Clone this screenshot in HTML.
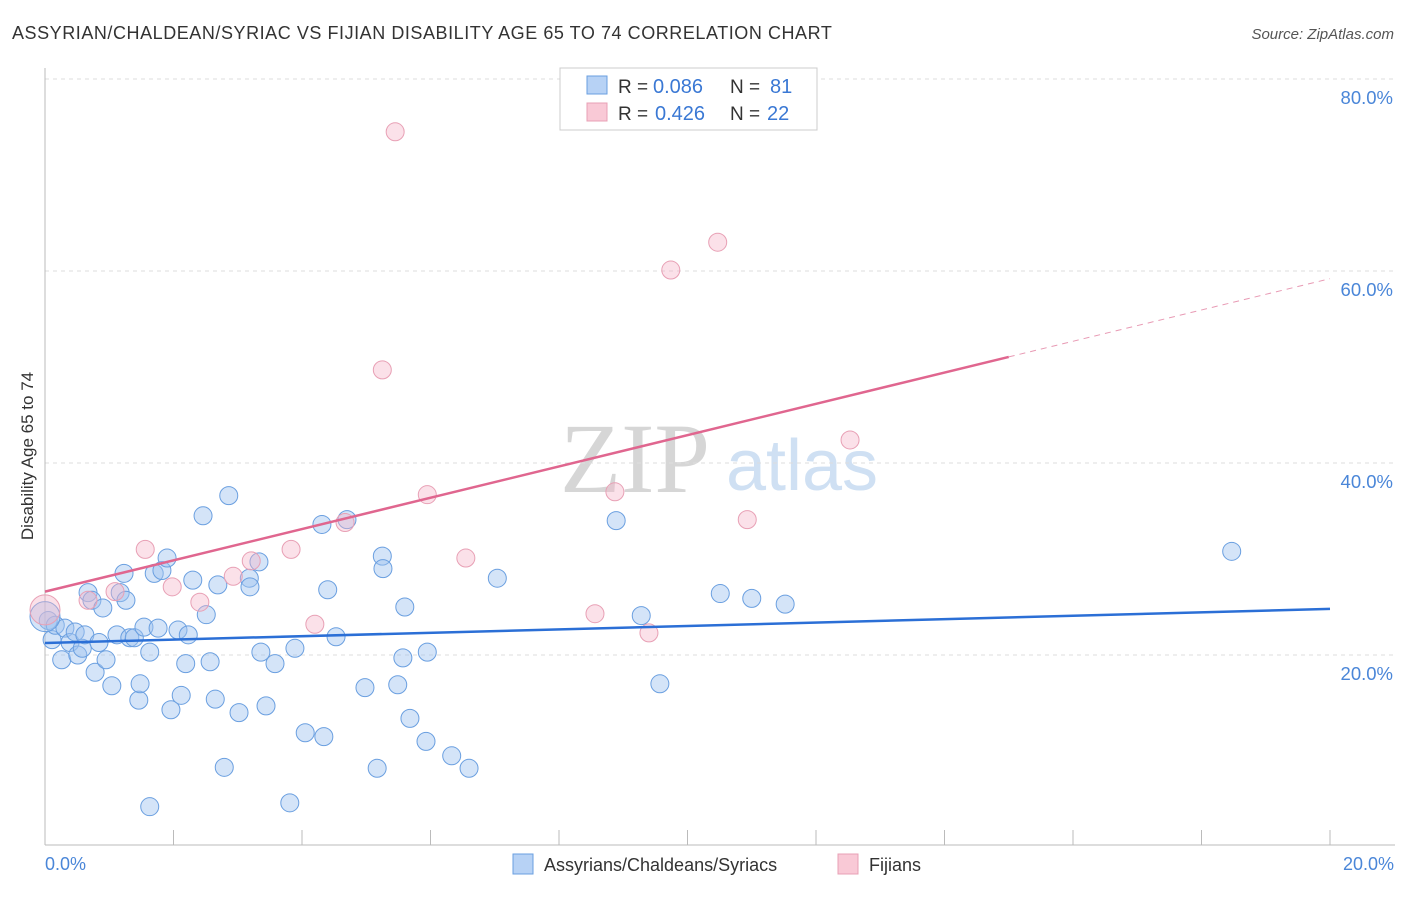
<!DOCTYPE html>
<html><head><meta charset="utf-8"><style>
body{margin:0;background:#fff;font-family:"Liberation Sans",sans-serif;}
svg text{font-family:"Liberation Sans",sans-serif;}
</style></head><body>
<svg width="1406" height="892">
<text x="12" y="39" font-size="18" letter-spacing="0.55" fill="#333">ASSYRIAN/CHALDEAN/SYRIAC VS FIJIAN DISABILITY AGE 65 TO 74 CORRELATION CHART</text>
<text x="1394" y="39" font-size="15" fill="#555" font-style="italic" text-anchor="end">Source: ZipAtlas.com</text>
<text x="635" y="492" font-size="100" fill="#d6d6d6" style="font-family:'Liberation Serif',serif" text-anchor="middle">ZIP</text>
<text x="802" y="490" font-size="72" fill="#cfe0f3" text-anchor="middle">atlas</text>
<g id="grid"></g>
<line x1="45" y1="68" x2="45" y2="845" stroke="#bbb"/>
<line x1="45" y1="845" x2="1395" y2="845" stroke="#bbb"/>
<g id="xticks"></g>
<text x="33" y="456" font-size="17" fill="#333" text-anchor="middle" transform="rotate(-90 33 456)">Disability Age 65 to 74</text>
<text x="45" y="870" font-size="18" fill="#4a86d8">0.0%</text>
<text x="1394" y="870" font-size="18" fill="#4a86d8" text-anchor="end">20.0%</text>
<g id="points"></g>
<g id="lines"></g>
<g>
<rect x="560" y="68" width="257" height="62" fill="#fff" stroke="#ccc"/>
<rect x="587" y="76" width="20" height="18" fill="#b7d2f5" stroke="#6a9fe0"/>
<rect x="587" y="103" width="20" height="18" fill="#f9c9d6" stroke="#e8a0b5"/>
<text x="618" y="93" font-size="19" fill="#333">R =</text>
<text x="653" y="93" font-size="20" fill="#3a78d4">0.086</text>
<text x="730" y="93" font-size="19" fill="#333">N =</text>
<text x="770" y="93" font-size="20" fill="#3a78d4">81</text>
<text x="618" y="120" font-size="19" fill="#333">R =</text>
<text x="655" y="120" font-size="20" fill="#3a78d4">0.426</text>
<text x="730" y="120" font-size="19" fill="#333">N =</text>
<text x="767" y="120" font-size="20" fill="#3a78d4">22</text>
</g>
<g>
<rect x="513" y="854" width="20" height="20" fill="#b7d2f5" stroke="#6a9fe0"/>
<text x="544" y="871" font-size="18" fill="#333">Assyrians/Chaldeans/Syriacs</text>
<rect x="838" y="854" width="20" height="20" fill="#f9c9d6" stroke="#e8a0b5"/>
<text x="869" y="871" font-size="18" fill="#333">Fijians</text>
</g>
</svg>
<script>
const yTicks=[20,40,60,80];
const blueX=[0.05,0.11,0.16,0.26,0.31,0.39,0.47,0.51,0.58,0.62,0.67,0.73,0.78,0.84,0.90,0.95,1.04,1.12,1.17,1.23,1.26,1.32,1.39,1.46,1.48,1.54,1.63,1.63,1.70,1.76,1.82,1.90,1.96,2.07,2.12,2.19,2.23,2.30,2.46,2.51,2.57,2.65,2.69,2.79,2.86,3.02,3.18,3.19,3.33,3.36,3.44,3.58,3.81,3.89,4.05,4.31,4.34,4.40,4.53,4.70,4.98,5.17,5.25,5.26,5.49,5.57,5.60,5.68,5.93,5.95,6.33,6.60,7.04,8.89,9.28,9.57,10.51,11.00,11.52,18.47,0.0];
const blueY=[23.6,21.6,23.1,19.5,22.8,21.3,22.4,20.0,20.7,22.1,26.5,25.7,18.2,21.3,24.9,19.5,16.8,22.1,26.5,28.5,25.7,21.8,21.8,15.3,17.0,22.9,20.3,4.2,28.5,22.8,28.8,30.1,14.3,22.6,15.8,19.1,22.1,27.8,34.5,24.2,19.3,15.4,27.3,8.3,36.6,14.0,28.0,27.1,29.7,20.3,14.7,19.1,4.6,20.7,11.9,33.6,11.5,26.8,21.9,34.1,16.6,8.2,30.3,29.0,16.9,19.7,25.0,13.4,11.0,20.3,9.5,8.2,28.0,34.0,24.1,17.0,26.4,25.9,25.3,30.8,24.0];
const pinkX=[0.0,0.67,1.09,1.56,1.98,2.41,2.93,3.21,3.83,4.20,4.67,5.25,5.45,5.95,6.55,8.56,8.87,9.40,9.74,10.47,10.93,12.53];
const pinkY=[24.7,25.7,26.6,31.0,27.1,25.5,28.2,29.8,31.0,23.2,33.8,49.7,74.5,36.7,30.1,24.3,37.0,22.3,60.1,63.0,34.1,42.4];
const blueTrend=[21.25,24.8];
const pinkTrend=[26.6,59.2];
const NS="http://www.w3.org/2000/svg";
const sx=v=>45+v*64.25, sy=v=>847-v*9.6;
function mk(tag,attrs,parent){const e=document.createElementNS(NS,tag);for(const k in attrs)e.setAttribute(k,attrs[k]);document.getElementById(parent).appendChild(e);return e;}
yTicks.forEach(t=>{
 const l=mk('line',{x1:45,x2:1395,y1:sy(t),y2:sy(t),stroke:'#ddd','stroke-dasharray':'4,4'},'grid');
 
 
 const tx=mk('text',{x:1393,y:sy(t)+25,'font-size':18.5,fill:'#4a86d8','text-anchor':'end'},'grid');
 tx.textContent=t.toFixed(1)+'%';
 
 
});
for(let i=1;i<=10;i++){
 const l=mk('line',{x1:sx(i*2),x2:sx(i*2),y1:830,y2:845,stroke:'#bbb'},'xticks');
 
 
}
blueX.forEach((x,i)=>{
 const big=(x===0);
 const c=mk('circle',{cx:sx(x),cy:sy(blueY[i]),r:big?15:9,fill:'rgba(160,195,240,0.45)',stroke:'#6a9fe0','stroke-width':1},'points');
 
 
});
pinkX.forEach((x,i)=>{
 const big=(x===0);
 const c=mk('circle',{cx:sx(x),cy:sy(pinkY[i]),r:big?15:9,fill:'rgba(245,180,200,0.4)',stroke:'#e8a0b5','stroke-width':1},'points');
 
 
});
const bl=mk('line',{x1:sx(0),y1:sy(blueTrend[0]),x2:sx(20),y2:sy(blueTrend[1]),stroke:'#2b6fd6','stroke-width':2.5},'lines');


const pv=x=>pinkTrend[0]+(pinkTrend[1]-pinkTrend[0])*x/20;
const pl=mk('line',{x1:sx(0),y1:sy(pv(0)),x2:sx(15),y2:sy(pv(15)),stroke:'#e0668f','stroke-width':2.5},'lines');


const pd=mk('line',{x1:sx(15),y1:sy(pv(15)),x2:sx(20),y2:sy(pv(20)),stroke:'#e89ab4','stroke-width':1,'stroke-dasharray':'6,5'},'lines');


</script>
</body></html>
